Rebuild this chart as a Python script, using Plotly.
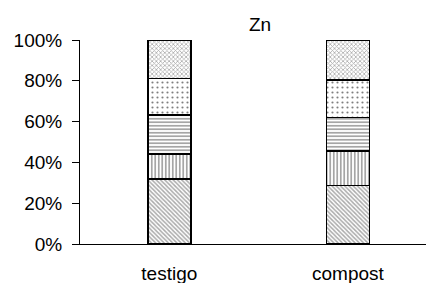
import plotly.graph_objects as go

categories = ["testigo", "compost"]
seg1 = [0.32, 0.286]
seg2 = [0.121, 0.171]
seg3 = [0.191, 0.164]
seg4 = [0.180, 0.183]
seg5 = [0.188, 0.196]
series = [seg1, seg2, seg3, seg4, seg5]
patterns = [
    dict(shape="\\", size=3, solidity=0.5, fgcolor="#555555", bgcolor="white"),
    dict(shape="|", size=3.5, solidity=0.35, fgcolor="black", bgcolor="white"),
    dict(shape="-", size=3.5, solidity=0.35, fgcolor="black", bgcolor="white"),
    dict(shape=".", size=5, solidity=0.15, fgcolor="black", bgcolor="white"),
    dict(shape="x", size=3, solidity=0.45, fgcolor="#555555", bgcolor="white"),
]

fig = go.Figure()
for vals, pat in zip(series, patterns):
    fig.add_trace(go.Bar(
        x=categories, y=vals, width=0.24,
        marker=dict(color="white", pattern=pat, line=dict(color="black", width=1.6)),
        showlegend=False,
    ))

fig.update_layout(
    barmode="stack",
    width=426, height=283,
    margin=dict(l=80, r=0, t=40, b=39, autoexpand=False),
    paper_bgcolor="white", plot_bgcolor="white",
    font=dict(family="Liberation Sans, Arial, sans-serif", size=19, color="black"),
    annotations=[dict(text="Zn", x=0.52, y=1.0, xref="paper", yref="paper",
                      yanchor="bottom", yshift=3, showarrow=False,
                      font=dict(size=19, color="black"))],
)
fig.update_xaxes(
    range=[-0.5, 1.437], showline=True, linecolor="black", linewidth=1,
    ticks="", showgrid=False, ticklabelstandoff=12, automargin=False,
)
fig.update_yaxes(
    range=[0, 1], tickformat=".0%", dtick=0.2, showline=True, linecolor="black",
    linewidth=1, ticks="outside", ticklen=7, tickcolor="black", showgrid=False,
    zeroline=False, ticklabelstandoff=6, automargin=False,
)
fig.write_html("out.html", config={"displayModeBar": False},
               post_script="document.body.style.margin='0';document.body.style.overflow='hidden';")
